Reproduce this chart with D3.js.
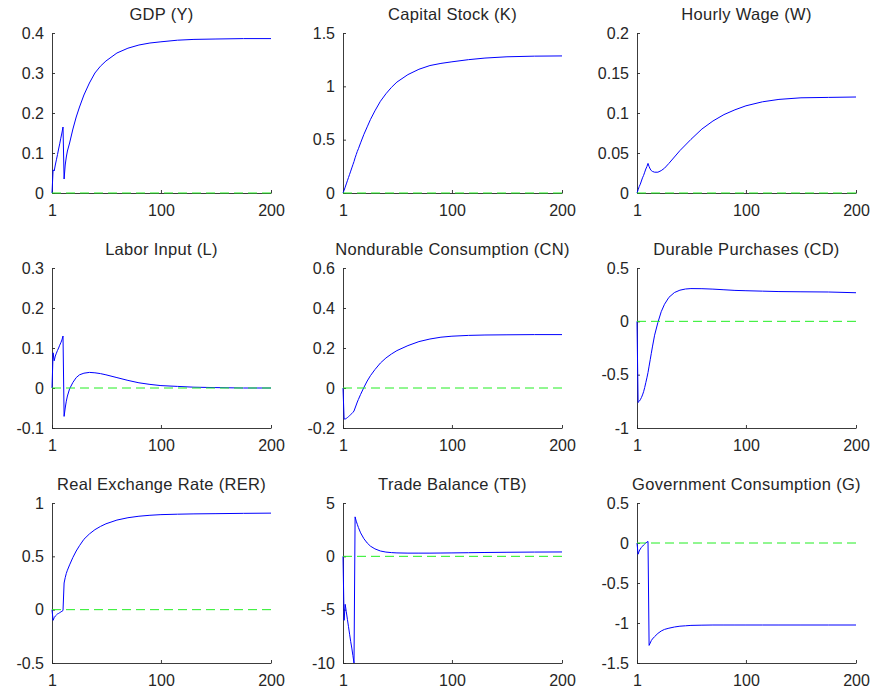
<!DOCTYPE html>
<html>
<head>
<meta charset="utf-8">
<script src="https://cdn.jsdelivr.net/npm/d3@7"></script>
<style>
  html, body { margin: 0; padding: 0; background: #fff; }
  svg { display: block; }
  text { font-family: Arial, "Liberation Sans", sans-serif; fill: #262626; }
</style>
</head>
<body>
<svg id="chart" width="871" height="688"></svg>
<script>
// ---- data ----
const periods = [1,2,3,4,5,6,7,8,9,10,11,12,13,14,15,17,20,23,26,30,35,40,45,50,60,70,80,90,100,115,130,150,175,200];

const gdp = [0,0.058,0.055,0.07,0.083,0.096,0.11,0.123,0.137,0.15,0.165,0.035,0.07,0.09,0.105,0.125,0.16,0.19,0.215,0.245,0.275,0.3,0.317,0.33,0.35,0.362,0.37,0.375,0.378,0.382,0.384,0.385,0.386,0.386];
const capital = [0,0.025,0.055,0.085,0.115,0.145,0.175,0.205,0.235,0.265,0.295,0.33,0.36,0.39,0.415,0.47,0.55,0.62,0.69,0.77,0.86,0.93,0.99,1.04,1.11,1.16,1.195,1.215,1.23,1.25,1.265,1.277,1.283,1.285];
const wage = [0,0.004,0.008,0.011,0.015,0.019,0.022,0.026,0.03,0.033,0.037,0.033,0.03,0.028,0.027,0.026,0.026,0.028,0.031,0.037,0.045,0.053,0.06,0.067,0.08,0.09,0.098,0.104,0.109,0.114,0.117,0.119,0.1195,0.12];
const labor = [0,0.088,0.068,0.08,0.087,0.094,0.1,0.107,0.113,0.12,0.13,-0.071,-0.05,-0.033,-0.02,-0.002,0.014,0.026,0.033,0.037,0.039,0.038,0.036,0.033,0.026,0.019,0.013,0.009,0.006,0.004,0.002,0.001,0,0];
const nondurable = [0,-0.155,-0.155,-0.152,-0.148,-0.143,-0.138,-0.133,-0.128,-0.122,-0.115,-0.1,-0.085,-0.07,-0.057,-0.032,0.003,0.035,0.062,0.092,0.125,0.15,0.17,0.187,0.212,0.232,0.245,0.254,0.259,0.263,0.265,0.266,0.267,0.267];
const durable = [0,-0.76,-0.75,-0.735,-0.715,-0.69,-0.66,-0.62,-0.575,-0.53,-0.48,-0.42,-0.36,-0.3,-0.24,-0.13,-0.01,0.09,0.16,0.225,0.27,0.292,0.303,0.307,0.306,0.302,0.296,0.29,0.287,0.283,0.279,0.277,0.275,0.268];
const rer = [0,-0.1,-0.075,-0.06,-0.05,-0.04,-0.035,-0.028,-0.022,-0.015,-0.008,0.25,0.3,0.34,0.37,0.42,0.49,0.55,0.6,0.66,0.71,0.75,0.78,0.805,0.84,0.862,0.876,0.885,0.891,0.895,0.898,0.9,0.903,0.905];
const tradeBalance = [0,-6.0,-4.5,-5.2,-5.9,-6.6,-7.3,-8.0,-8.6,-9.3,-10.0,3.7,3.3,3.0,2.7,2.2,1.65,1.25,0.95,0.7,0.5,0.4,0.35,0.32,0.3,0.3,0.3,0.31,0.32,0.34,0.36,0.38,0.4,0.41];
const govt = [0,-0.14,-0.1,-0.075,-0.055,-0.04,-0.025,-0.012,0,0.01,0.02,-1.28,-1.25,-1.22,-1.2,-1.17,-1.13,-1.1,-1.08,-1.065,-1.05,-1.04,-1.035,-1.03,-1.027,-1.025,-1.025,-1.025,-1.025,-1.025,-1.025,-1.025,-1.025,-1.025];

const titles = ["GDP (Y)","Capital Stock (K)","Hourly Wage (W)","Labor Input (L)","Nondurable Consumption (CN)","Durable Purchases (CD)","Real Exchange Rate (RER)","Trade Balance (TB)","Government Consumption (G)"];
const seriesList = [gdp, capital, wage, labor, nondurable, durable, rer, tradeBalance, govt];

const xTicks = [1, 100, 200];
const yTicksGdp = [0, 0.1, 0.2, 0.3, 0.4];
const yTicksCapital = [0, 0.5, 1, 1.5];
const yTicksWage = [0, 0.05, 0.1, 0.15, 0.2];
const yTicksLabor = [-0.1, 0, 0.1, 0.2, 0.3];
const yTicksNondurable = [-0.2, 0, 0.2, 0.4, 0.6];
const yTicksDurable = [-1, -0.5, 0, 0.5];
const yTicksRer = [-0.5, 0, 0.5, 1];
const yTicksTb = [-10, -5, 0, 5];
const yTicksGovt = [-1.5, -1, -0.5, 0, 0.5];
const yTickList = [yTicksGdp, yTicksCapital, yTicksWage, yTicksLabor, yTicksNondurable, yTicksDurable, yTicksRer, yTicksTb, yTicksGovt];

// ---- layout ----
const colLeft = [52, 343, 637];
const rowTop = [33, 268, 503];
const plotW = 219, plotH = 160;
const axisColor = "#262626";

const svg = d3.select("#chart");
const fmt = v => String(+v.toFixed(4));

seriesList.forEach((vals, i) => {
  const r = Math.floor(i / 3), c = i % 3;
  const yt = yTickList[i];
  const x = d3.scaleLinear().domain([1, 200]).range([0, plotW]);
  const y = d3.scaleLinear().domain([yt[0], yt[yt.length - 1]]).range([plotH, 0]);
  const g = svg.append("g").attr("transform", `translate(${colLeft[c]},${rowTop[r]})`);

  // axes
  const yAxis = d3.axisLeft(y).tickValues(yt).tickFormat(fmt).tickSizeInner(-3).tickSizeOuter(0).tickPadding(8);
  const xAxis = d3.axisBottom(x).tickValues(xTicks).tickFormat(fmt).tickSizeInner(-3).tickSizeOuter(0).tickPadding(12);
  const ga = g.append("g").call(yAxis);
  const gx = g.append("g").attr("transform", `translate(0,${plotH})`).call(xAxis);
  [ga, gx].forEach(a => {
    a.select(".domain").attr("stroke", axisColor).attr("stroke-width", 0.9);
    a.selectAll(".tick line").attr("stroke", axisColor).attr("stroke-width", 0.9);
    a.selectAll(".tick text").attr("fill", axisColor).style("font-size", "16px").style("font-family", "Arial, 'Liberation Sans', sans-serif");
  });

  // IRF line
  const line = d3.line().x((d, k) => x(periods[k])).y(d => y(d));
  g.append("path").datum(vals)
    .attr("fill", "none").attr("stroke", "#0000ff").attr("stroke-width", 1)
    .attr("stroke-linejoin", "round")
    .attr("d", line);

  // zero line (green dashed)
  g.append("line")
    .attr("x1", x(1)).attr("x2", x(200)).attr("y1", y(0)).attr("y2", y(0))
    .attr("stroke", "#22ee22").attr("stroke-width", 1).attr("stroke-dasharray", "9,5");

  // title
  g.append("text")
    .attr("x", plotW / 2).attr("y", -13)
    .attr("text-anchor", "middle")
    .style("font-size", "16.5px")
    .style("letter-spacing", "0.3px")
    .text(titles[i]);
});
</script>
</body>
</html>
